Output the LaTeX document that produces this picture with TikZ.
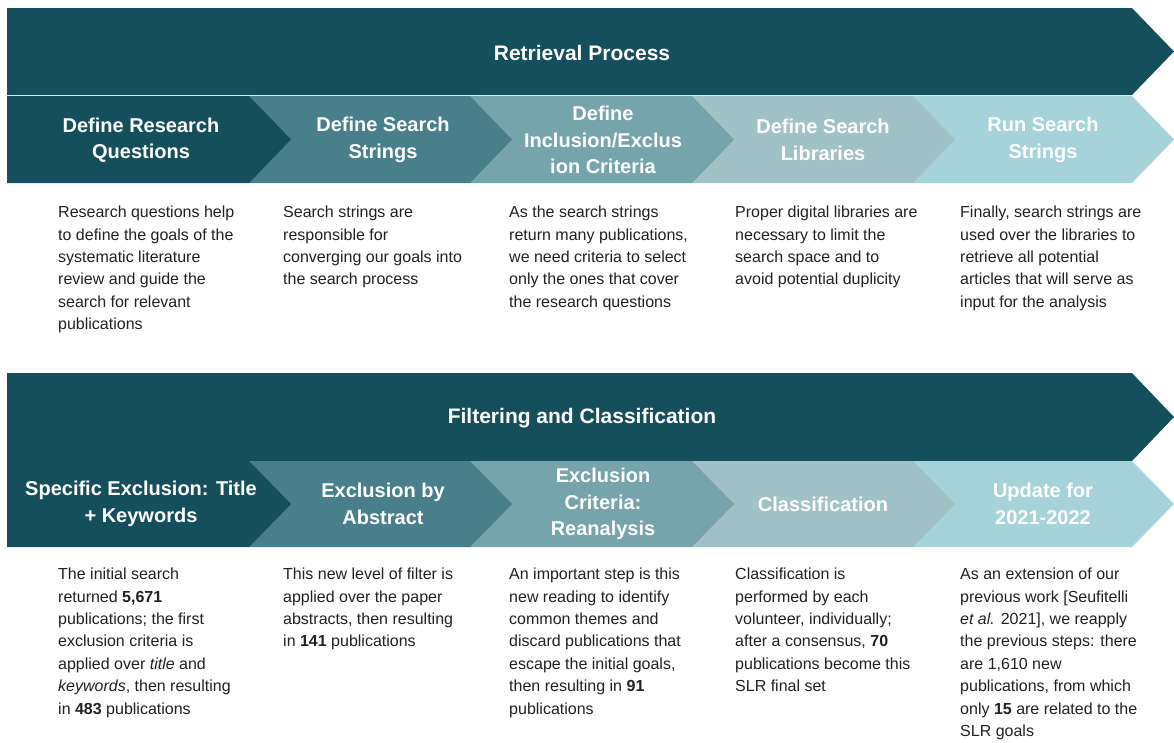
\documentclass[tikz,border=0pt]{standalone}
\usepackage{fontspec}
\setmainfont{Liberation Sans}
\begin{document}
\definecolor{tealA}{HTML}{164F5C}
\definecolor{tealB}{HTML}{487F8B}
\definecolor{tealC}{HTML}{75A4AD}
\definecolor{tealD}{HTML}{A0C2C6}
\definecolor{tealE}{HTML}{A6D2D9}
\definecolor{bodytext}{HTML}{212121}
\tikzset{
  banner title/.style={text=white, font=\fontsize{21}{26}\selectfont\bfseries, align=center, inner sep=0pt},
  step title/.style={text=white, font=\fontsize{20}{26.5}\selectfont\bfseries, align=center, inner sep=0pt},
  step text/.style={text=bodytext, font=\fontsize{16}{22.4}\selectfont, align=left, anchor=north west, inner sep=0pt},
}
% chevron: left x, body end x, top y, bottom y, colour
\newcommand{\chevron}[5]{%
  \fill[#5] (#1,#3) -- (#2,#3) -- ({#2+42},{(#3+#4)/2}) -- (#2,#4) -- (#1,#4) -- cycle;}
\begin{tikzpicture}[x=1pt,y=-1pt]
\useasboundingbox (0,0) rectangle (1174,742);

% ---------- Retrieval process ----------
\chevron{7}{1132}{8}{95}{tealA}
\chevron{913}{1132}{96}{183}{tealE}
\chevron{692}{913}{96}{183}{tealD}
\chevron{470}{692}{96}{183}{tealC}
\chevron{249}{470}{96}{183}{tealB}
\chevron{7}{249}{96}{183}{tealA}

\node[banner title] (retrieval) at (582,53) {Retrieval Process};
\node[step title] (rq) at (141,140) {Define Research\\Questions};
\node[step title] (ss) at (383,140) {Define Search\\Strings};
\node[step title] (ic) at (603,140) {Define\\Inclusion/Exclus\\ion Criteria};
\node[step title] (sl) at (823,140) {Define Search\\Libraries};
\node[step title] (rs) at (1043,140) {Run Search\\Strings};

\node[step text] (rqtext) at (58,201.8) {\strut Research questions help\\to define the goals of the\\systematic literature\\review and guide the\\search for relevant\\publications};
\node[step text] (sstext) at (283,201.8) {\strut Search strings are\\responsible for\\converging our goals into\\the search process};
\node[step text] (ictext) at (509,201.8) {\strut As the search strings\\return many publications,\\we need criteria to select\\only the ones that cover\\the research questions};
\node[step text] (sltext) at (735,201.8) {\strut Proper digital libraries are\\necessary to limit the\\search space and to\\avoid potential duplicity};
\node[step text] (rstext) at (960,201.8) {\strut Finally, search strings are\\used over the libraries to\\retrieve all potential\\articles that will serve as\\input for the analysis};

% ---------- Filtering and classification ----------
\chevron{7}{1132}{373}{461}{tealA}
\chevron{913}{1132}{461}{547}{tealE}
\chevron{692}{913}{461}{547}{tealD}
\chevron{470}{692}{461}{547}{tealC}
\chevron{249}{470}{461}{547}{tealB}
\chevron{7}{249}{461}{547}{tealA}

\node[banner title] (filtering) at (582,418) {Filtering and Classification};
\node[step title] (tk) at (141,504) {Specific Exclusion: Title\\+ Keywords};
\node[step title] (ab) at (383,504) {Exclusion by\\Abstract};
\node[step title] (re) at (603,504) {Exclusion\\Criteria:\\Reanalysis};
\node[step title] (cl) at (823,504) {Classification};
\node[step title] (up) at (1043,504) {Update for\\2021-2022};

\node[step text] (tktext) at (58,563.8) {\strut The initial search\\returned \textbf{5,671}\\publications; the first\\exclusion criteria is\\applied over \textit{title} and\\\textit{keywords}, then resulting\\in \textbf{483} publications};
\node[step text] (abtext) at (283,563.8) {\strut This new level of filter is\\applied over the paper\\abstracts, then resulting\\in \textbf{141} publications};
\node[step text] (retext) at (509,563.8) {\strut An important step is this\\new reading to identify\\common themes and\\discard publications that\\escape the initial goals,\\then resulting in \textbf{91}\\publications};
\node[step text] (cltext) at (735,563.8) {\strut Classification is\\performed by each\\volunteer, individually;\\after a consensus, \textbf{70}\\publications become this\\SLR final set};
\node[step text] (uptext) at (960,563.8) {\strut As an extension of our\\previous work [Seufitelli\\\textit{et al.} 2021], we reapply\\the previous steps: there\\are 1,610 new\\publications, from which\\only \textbf{15} are related to the\\SLR goals};
\end{tikzpicture}
\end{document}
